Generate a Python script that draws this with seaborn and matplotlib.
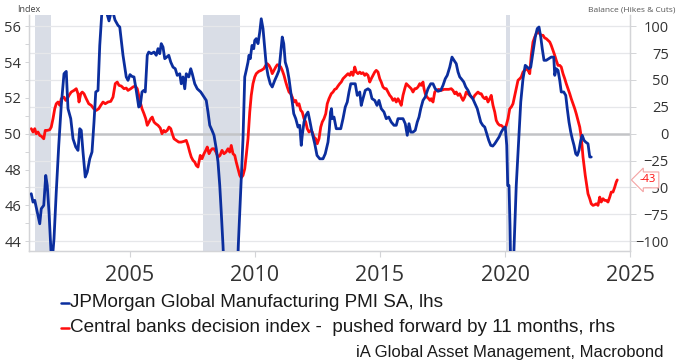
import matplotlib
matplotlib.use("Agg")
import matplotlib.pyplot as plt
from matplotlib.lines import Line2D
from matplotlib.ticker import MultipleLocator
import matplotlib.transforms as mtransforms
import seaborn as sns

# JPMorgan Global Manufacturing PMI (left axis, index)
pmi_year = [
    2001.05, 2001.12, 2001.19, 2001.29, 2001.39, 2001.45, 2001.55, 2001.63, 2001.69, 2001.76,
    2001.87, 2001.96, 2002.05, 2002.15, 2002.25, 2002.36, 2002.45, 2002.52, 2002.63, 2002.72,
    2002.83, 2002.92, 2002.99, 2003.05, 2003.12, 2003.21, 2003.29, 2003.39, 2003.48, 2003.56,
    2003.63, 2003.72, 2003.79, 2003.88, 2004.00, 2004.16, 2004.28, 2004.40, 2004.52, 2004.59,
    2004.72, 2004.85, 2004.92, 2005.00, 2005.08, 2005.16, 2005.25, 2005.35, 2005.41, 2005.48,
    2005.55, 2005.61, 2005.69, 2005.75, 2005.85, 2005.96, 2006.05, 2006.12, 2006.19, 2006.25,
    2006.32, 2006.39, 2006.47, 2006.55, 2006.63, 2006.72, 2006.81, 2006.89, 2006.99, 2007.05,
    2007.12, 2007.19, 2007.25, 2007.35, 2007.43, 2007.49, 2007.59, 2007.69, 2007.83, 2007.96,
    2008.05, 2008.12, 2008.19, 2008.28, 2008.36, 2008.45, 2008.52, 2008.59, 2008.65, 2008.72,
    2008.88, 2009.00, 2009.12, 2009.25, 2009.33, 2009.45, 2009.52, 2009.59, 2009.65, 2009.72,
    2009.76, 2009.81, 2009.88, 2009.95, 2009.99, 2010.05, 2010.12, 2010.19, 2010.25, 2010.32,
    2010.39, 2010.45, 2010.52, 2010.61, 2010.69, 2010.79, 2010.88, 2010.96, 2011.03, 2011.09,
    2011.15, 2011.21, 2011.29, 2011.36, 2011.43, 2011.49, 2011.55, 2011.63, 2011.72, 2011.79,
    2011.85, 2011.89, 2011.96, 2012.03, 2012.12, 2012.19, 2012.28, 2012.39, 2012.48, 2012.59,
    2012.72, 2012.81, 2012.92, 2012.97, 2013.02, 2013.06, 2013.09, 2013.16, 2013.25, 2013.35,
    2013.43, 2013.52, 2013.61, 2013.69, 2013.76, 2013.83, 2013.92, 2014.01, 2014.09, 2014.19,
    2014.25, 2014.32, 2014.41, 2014.52, 2014.60, 2014.68, 2014.79, 2014.88, 2014.96, 2015.05,
    2015.16, 2015.25, 2015.35, 2015.45, 2015.56, 2015.65, 2015.72, 2015.83, 2015.92, 2016.01,
    2016.09, 2016.16, 2016.23, 2016.32, 2016.41, 2016.49, 2016.56, 2016.63, 2016.72, 2016.81,
    2016.92, 2017.03, 2017.12, 2017.21, 2017.32, 2017.43, 2017.52, 2017.61, 2017.69, 2017.79,
    2017.88, 2017.96, 2018.05, 2018.12, 2018.19, 2018.25, 2018.35, 2018.43, 2018.52, 2018.61,
    2018.71, 2018.80, 2018.89, 2018.96, 2019.03, 2019.11, 2019.19, 2019.27, 2019.35, 2019.43,
    2019.51, 2019.59, 2019.68, 2019.76, 2019.85, 2019.93, 2020.01, 2020.07, 2020.11, 2020.16,
    2020.20, 2020.26, 2020.33, 2020.45, 2020.55, 2020.63, 2020.72, 2020.81, 2020.89, 2020.96,
    2021.03, 2021.12, 2021.21, 2021.29, 2021.36, 2021.43, 2021.49, 2021.56, 2021.65, 2021.75,
    2021.85, 2021.95, 2021.99, 2022.05, 2022.12, 2022.19, 2022.25, 2022.35, 2022.43, 2022.49,
    2022.56, 2022.63, 2022.69, 2022.76, 2022.83, 2022.89, 2022.96, 2023.03, 2023.09, 2023.16,
    2023.23, 2023.32, 2023.39, 2023.45,
]
pmi_value = [
    46.65, 46.18, 46.28, 45.62, 44.97, 45.81, 46.00, 47.67, 47.11, 45.62,
    42.60, 44.13, 46.74, 49.35, 51.58, 53.35, 53.48, 51.40, 50.84, 49.72,
    49.26, 49.07, 50.28, 50.19, 48.98, 47.58, 47.86, 48.60, 48.98, 50.65,
    52.33, 52.42, 54.93, 56.90, 57.10, 56.30, 57.00, 56.35, 56.05, 55.96,
    54.38, 53.17, 52.98, 53.30, 53.20, 53.17, 52.42, 51.49, 51.58, 52.33,
    52.42, 52.33, 54.38, 54.56, 54.47, 54.56, 54.38, 54.75, 54.47, 55.03,
    54.84, 54.19, 54.28, 54.38, 54.00, 53.72, 53.63, 53.26, 53.35, 52.79,
    53.17, 52.51, 53.35, 53.17, 53.63, 53.35, 52.79, 52.51, 52.33, 52.05,
    51.86, 51.21, 50.47, 50.19, 49.91, 49.16, 48.42, 47.11, 45.62, 43.76,
    38.50, 34.50, 36.00, 40.50, 43.70, 47.49, 49.72, 53.17, 53.54, 54.00,
    54.38, 54.19, 54.93, 54.75, 55.21, 55.31, 55.03, 55.68, 56.42, 55.87,
    54.75, 53.82, 53.26, 52.79, 52.61, 52.98, 53.26, 53.54, 54.56, 55.40,
    55.03, 54.00, 53.63, 53.07, 52.33, 51.77, 51.12, 50.84, 50.37, 50.47,
    49.35, 49.91, 50.65, 51.02, 51.21, 50.74, 50.09, 49.44, 48.79, 48.60,
    48.60, 48.88, 49.53, 50.20, 51.20, 51.40, 50.84, 50.93, 50.28, 50.28,
    50.28, 50.84, 51.49, 51.77, 52.33, 52.79, 52.79, 52.79, 52.14, 52.33,
    51.58, 51.96, 52.42, 52.51, 52.42, 51.96, 51.86, 51.58, 51.86, 51.40,
    51.21, 50.84, 50.93, 50.65, 50.47, 50.47, 50.84, 50.84, 50.84, 50.56,
    49.91, 50.56, 50.09, 50.09, 50.19, 50.65, 50.93, 51.40, 51.86, 52.05,
    52.51, 52.79, 52.79, 52.51, 52.37, 52.42, 52.70, 53.07, 53.26, 53.72,
    54.28, 54.10, 53.91, 53.45, 53.17, 53.07, 52.89, 52.61, 52.42, 52.14,
    51.96, 51.68, 51.40, 51.02, 50.65, 50.47, 50.37, 50.00, 49.63, 49.35,
    49.31, 49.44, 49.63, 49.81, 50.09, 50.28, 50.37, 49.35, 47.11, 47.11,
    44.88, 39.80, 42.40, 47.11, 49.72, 51.77, 53.07, 53.82, 53.72, 53.63,
    53.72, 54.56, 55.40, 55.87, 55.96, 55.40, 54.75, 54.10, 54.10, 54.19,
    54.28, 54.28, 53.26, 53.63, 53.54, 52.98, 52.33, 52.33, 52.14, 51.40,
    50.65, 50.09, 49.72, 49.35, 48.88, 48.79, 49.07, 49.63, 49.91, 49.63,
    49.53, 49.44, 48.70, 48.70,
]

# Central banks decision index, pushed forward 11 months (right axis, balance)
cbdi_year = [
    2001.05, 2001.12, 2001.19, 2001.25, 2001.32, 2001.39, 2001.45, 2001.55, 2001.61, 2001.69,
    2001.79, 2001.85, 2001.92, 2001.99, 2002.05, 2002.12, 2002.19, 2002.25, 2002.36, 2002.43,
    2002.49, 2002.56, 2002.65, 2002.76, 2002.85, 2002.92, 2002.96, 2003.03, 2003.09, 2003.16,
    2003.25, 2003.35, 2003.45, 2003.55, 2003.65, 2003.75, 2003.83, 2003.92, 2004.01, 2004.12,
    2004.23, 2004.32, 2004.41, 2004.49, 2004.56, 2004.65, 2004.76, 2004.85, 2004.92, 2005.03,
    2005.12, 2005.21, 2005.29, 2005.35, 2005.41, 2005.48, 2005.56, 2005.63, 2005.69, 2005.76,
    2005.83, 2005.89, 2005.96, 2006.03, 2006.12, 2006.21, 2006.28, 2006.35, 2006.41, 2006.49,
    2006.56, 2006.63, 2006.69, 2006.76, 2006.85, 2006.95, 2007.05, 2007.16, 2007.25, 2007.32,
    2007.39, 2007.45, 2007.52, 2007.59, 2007.65, 2007.72, 2007.76, 2007.81, 2007.88, 2007.96,
    2008.03, 2008.09, 2008.16, 2008.23, 2008.29, 2008.36, 2008.44, 2008.52, 2008.60, 2008.68,
    2008.76, 2008.84, 2008.92, 2008.99, 2009.05, 2009.12, 2009.19, 2009.25, 2009.32, 2009.39,
    2009.45, 2009.52, 2009.59, 2009.65, 2009.72, 2009.79, 2009.85, 2009.92, 2009.99, 2010.05,
    2010.15, 2010.25, 2010.35, 2010.43, 2010.49, 2010.56, 2010.63, 2010.69, 2010.76, 2010.83,
    2010.89, 2010.96, 2011.03, 2011.09, 2011.16, 2011.23, 2011.29, 2011.36, 2011.43, 2011.49,
    2011.56, 2011.63, 2011.69, 2011.76, 2011.83, 2011.89, 2011.96, 2012.03, 2012.09, 2012.16,
    2012.23, 2012.29, 2012.36, 2012.43, 2012.49, 2012.56, 2012.63, 2012.69, 2012.76, 2012.83,
    2012.89, 2012.96, 2013.05, 2013.12, 2013.19, 2013.25, 2013.32, 2013.39, 2013.45, 2013.52,
    2013.59, 2013.65, 2013.72, 2013.79, 2013.85, 2013.92, 2013.99, 2014.05, 2014.12, 2014.19,
    2014.25, 2014.32, 2014.39, 2014.45, 2014.52, 2014.59, 2014.65, 2014.72, 2014.79, 2014.85,
    2014.92, 2014.99, 2015.05, 2015.12, 2015.19, 2015.25, 2015.32, 2015.39, 2015.45, 2015.52,
    2015.59, 2015.65, 2015.72, 2015.79, 2015.85, 2015.92, 2015.99, 2016.05, 2016.12, 2016.19,
    2016.25, 2016.32, 2016.39, 2016.45, 2016.52, 2016.59, 2016.65, 2016.72, 2016.76, 2016.81,
    2016.88, 2016.95, 2017.00, 2017.05, 2017.12, 2017.19, 2017.25, 2017.35, 2017.45, 2017.56,
    2017.65, 2017.75, 2017.85, 2017.92, 2017.99, 2018.05, 2018.12, 2018.19, 2018.25, 2018.32,
    2018.39, 2018.45, 2018.52, 2018.59, 2018.65, 2018.72, 2018.79, 2018.85, 2018.92, 2018.99,
    2019.05, 2019.12, 2019.19, 2019.25, 2019.32, 2019.39, 2019.45, 2019.52, 2019.59, 2019.65,
    2019.72, 2019.79, 2019.85, 2019.92, 2019.99, 2020.05, 2020.12, 2020.19, 2020.25, 2020.32,
    2020.39, 2020.45, 2020.52, 2020.59, 2020.65, 2020.72, 2020.79, 2020.85, 2020.92, 2020.99,
    2021.05, 2021.12, 2021.19, 2021.25, 2021.32, 2021.39, 2021.45, 2021.52, 2021.59, 2021.65,
    2021.72, 2021.79, 2021.85, 2021.92, 2021.99, 2022.05, 2022.12, 2022.19, 2022.25, 2022.32,
    2022.39, 2022.45, 2022.52, 2022.59, 2022.65, 2022.72, 2022.79, 2022.85, 2022.92, 2022.99,
    2023.03, 2023.08, 2023.12, 2023.16, 2023.21, 2023.27, 2023.32, 2023.39, 2023.45, 2023.52,
    2023.59, 2023.65, 2023.72, 2023.79, 2023.85, 2023.92, 2023.99, 2024.05, 2024.12, 2024.19,
    2024.25, 2024.32, 2024.39, 2024.45, 2024.49,
]
cbdi_value = [
    4.7, 1.6, 4.7, 0.0, 1.6, -1.6, -2.2, -4.7, 3.1, 3.1,
    3.7, 6.2, 14.0, 23.3, 27.9, 29.5, 26.4, 32.6, 34.1, 31.0,
    32.6, 35.7, 38.8, 40.3, 41.9, 37.2, 29.5, 37.2, 38.8, 37.2,
    32.6, 27.9, 26.4, 23.3, 21.7, 23.3, 26.4, 29.5, 27.9, 29.5,
    30.1, 34.1, 46.6, 48.1, 45.0, 44.4, 41.9, 42.5, 40.3, 41.9,
    43.5, 44.4, 41.9, 35.7, 29.5, 23.3, 18.6, 14.0, 7.8, 10.9,
    14.0, 15.5, 10.9, 9.3, 7.8, 5.3, 0.0, 3.1, 1.6, 3.1,
    6.2, 4.7, 0.0, -4.7, -6.2, -7.8, -7.8, -7.1, -6.2, -10.9,
    -17.1, -21.7, -24.8, -26.4, -29.5, -31.0, -26.4, -20.2, -23.3, -18.6,
    -15.5, -12.4, -18.6, -15.5, -14.0, -14.0, -17.1, -21.7, -20.2, -15.5,
    -18.6, -17.1, -14.0, -17.1, -10.9, -18.6, -20.2, -26.4, -32.6, -38.8,
    -41.0, -38.8, -32.6, -20.2, -4.7, 20.2, 35.7, 46.6, 52.8, 55.9,
    58.0, 59.0, 60.5, 63.6, 65.2, 63.6, 60.5, 55.9, 59.0, 62.1,
    64.2, 63.6, 62.1, 59.0, 54.3, 48.1, 43.5, 38.8, 37.2, 34.1,
    29.5, 31.0, 26.4, 27.9, 21.7, 20.2, 14.0, 10.9, 4.7, 1.6,
    3.1, 1.6, -3.1, -4.7, -9.3, -4.7, 6.2, 10.9, 14.0, 18.6,
    27.9, 32.6, 37.2, 38.8, 41.3, 41.9, 44.4, 46.6, 48.1, 51.2,
    52.8, 54.3, 55.9, 54.3, 57.4, 54.3, 62.1, 57.4, 55.9, 57.4,
    55.9, 56.8, 54.3, 55.9, 54.3, 48.1, 51.2, 54.3, 57.4, 59.0,
    57.4, 51.2, 48.1, 43.5, 41.9, 41.9, 38.8, 35.7, 34.1, 31.0,
    32.6, 29.5, 32.6, 29.5, 26.4, 35.7, 41.9, 46.6, 45.0, 43.5,
    41.9, 38.8, 41.9, 41.9, 43.5, 46.6, 45.0, 48.1, 41.9, 37.2,
    34.1, 32.6, 31.0, 32.6, 29.5, 38.8, 40.3, 41.3, 40.3, 41.3,
    41.3, 41.3, 41.9, 40.3, 37.2, 38.8, 35.7, 37.2, 34.1, 31.0,
    34.1, 38.8, 37.2, 35.7, 34.1, 32.6, 35.7, 37.2, 38.8, 37.2,
    37.2, 34.1, 32.6, 34.1, 29.5, 32.6, 35.7, 26.4, 20.2, 12.4,
    9.3, 7.8, 7.8, 6.2, 4.7, 7.8, 14.0, 23.3, 24.8, 27.9,
    35.7, 41.9, 49.7, 51.2, 52.8, 57.4, 59.0, 60.5, 59.0, 55.9,
    72.9, 85.4, 90.0, 93.1, 94.7, 93.1, 91.6, 91.6, 89.1, 88.5,
    86.9, 85.4, 82.2, 77.6, 72.9, 68.3, 63.6, 63.6, 62.1, 55.9,
    51.2, 46.6, 41.9, 37.2, 32.6, 27.9, 23.3, 18.6, 12.4, 6.2,
    0.0, -10.9, -21.7, -29.5, -38.8, -48.1, -55.9, -60.5, -65.2, -66.7,
    -66.1, -65.2, -66.7, -59.0, -63.6, -60.5, -62.1, -62.1, -63.6, -59.0,
    -54.3, -54.3, -49.7, -45.0, -43.0,
]

# US recession periods (shaded)
recession_start = [2001.19, 2007.92, 2020.04]
recession_end = [2001.83, 2009.41, 2020.20]

year_ticks = [2005, 2010, 2015, 2020, 2025]
pmi_ticks = [44, 46, 48, 50, 52, 54, 56]
balance_ticks = [-100, -75, -50, -25, 0, 25, 50, 75, 100]

PMI_LABEL = "JPMorgan Global Manufacturing PMI SA, lhs"
CBDI_LABEL = "Central banks decision index -  pushed forward by 11 months, rhs"
SOURCE = "iA Global Asset Management, Macrobond"

BLUE = "#0b2e9e"
RED = "#ff0d0d"
GRID = "#e6e7ea"
ZERO = "#c3c4c7"
SPINE = "#d3d4d7"
SHADE = "#d9dde6"
TICK_TEXT = "#333333"

sns.set_theme(style="ticks")
plt.rcParams["font.family"] = ["Open Sans", "DejaVu Sans"]

W, H = 676, 364
fig = plt.figure(figsize=(W / 100, H / 100), dpi=100)
fig.patch.set_facecolor("white")


def fx(px):
    return px / W


def fy(py):
    return 1 - py / H


left, right, top, bottom = 29, 630, 15, 251
ax = fig.add_axes([fx(left), fy(bottom), (right - left) / W, (bottom - top) / H])
ax2 = ax.twinx()
# PMI (left scale) drawn above the central-bank index
ax.set_zorder(2)
ax2.set_zorder(1)
ax.patch.set_visible(False)

pmi_lim = (43.45, 56.63)
ax.set_ylim(*pmi_lim)
ax2.set_ylim((pmi_lim[0] - 50) * 100 / 6, (pmi_lim[1] - 50) * 100 / 6)
ax.set_xlim(2000.96, 2025.0)

for s, e in zip(recession_start, recession_end):
    ax2.axvspan(s, e, color=SHADE, lw=0, zorder=0.3)
for t in balance_ticks:
    ax2.axhline(t, color=ZERO if t == 0 else GRID,
                lw=1.8 if t == 0 else 0.9, zorder=0.5)

sns.lineplot(x=cbdi_year, y=cbdi_value, ax=ax2, color=RED, lw=2.0,
             estimator=None, sort=False, zorder=3)
sns.lineplot(x=pmi_year, y=pmi_value, ax=ax, color=BLUE, lw=2.0,
             estimator=None, sort=False, zorder=3)

for a in (ax, ax2):
    a.set_xlabel("")
    a.set_ylabel("")
    a.spines["top"].set_visible(False)
    for side in ("left", "right", "bottom"):
        a.spines[side].set_color(SPINE)
        a.spines[side].set_linewidth(0.9)

ax.set_xticks(year_ticks)
ax.tick_params(axis="x", bottom=True, length=4, width=0.8, color=SPINE,
               pad=6, labelsize=15.5, labelcolor=TICK_TEXT)
ax.set_yticks(pmi_ticks)
ax.yaxis.set_minor_locator(MultipleLocator(1))
ax.tick_params(axis="y", which="both", left=True, length=3, width=0.7,
               color=SPINE, pad=2.5, labelsize=10.5, labelcolor=TICK_TEXT)

ax2.set_yticks(balance_ticks)
ax2.tick_params(axis="y", right=True, length=4, width=0.7, color=SPINE,
                pad=24, labelsize=10.5, labelcolor=TICK_TEXT)
plt.setp(ax2.get_yticklabels(), ha="right")

# last value callout on the right axis
last_value = cbdi_value[-1]
trans = mtransforms.blended_transform_factory(ax2.transAxes, ax2.transData)
ax2.text(1.0 + 10 / (right - left), last_value, f"{last_value:.0f}", transform=trans,
         ha="left", va="center", color=RED, fontsize=8, zorder=10, clip_on=False,
         bbox=dict(boxstyle="larrow,pad=0.22", fc="white", ec="#f4a3a3", lw=0.8))

fig.text(fx(17), fy(10), "Index", fontsize=6.5, color="#444444", va="center", ha="left")
fig.text(fx(675), fy(10), "Balance (Hikes & Cuts)", fontsize=6, color="#555555",
         va="center", ha="right")

legend_font = dict(family=["Liberation Sans", "DejaVu Sans"], color="#1a1a1a")
for y, label, col in ((302.5, PMI_LABEL, BLUE), (328, CBDI_LABEL, RED)):
    fig.add_artist(Line2D([fx(61), fx(69)], [fy(y), fy(y)], color=col, lw=1.8,
                          transform=fig.transFigure))
    fig.text(fx(70), fy(y), label, va="center", ha="left", fontsize=13.6, **legend_font)
fig.text(fx(663), fy(353), SOURCE, va="center", ha="right", fontsize=12, **legend_font)

fig.savefig("out.png", dpi=100, facecolor="white")
